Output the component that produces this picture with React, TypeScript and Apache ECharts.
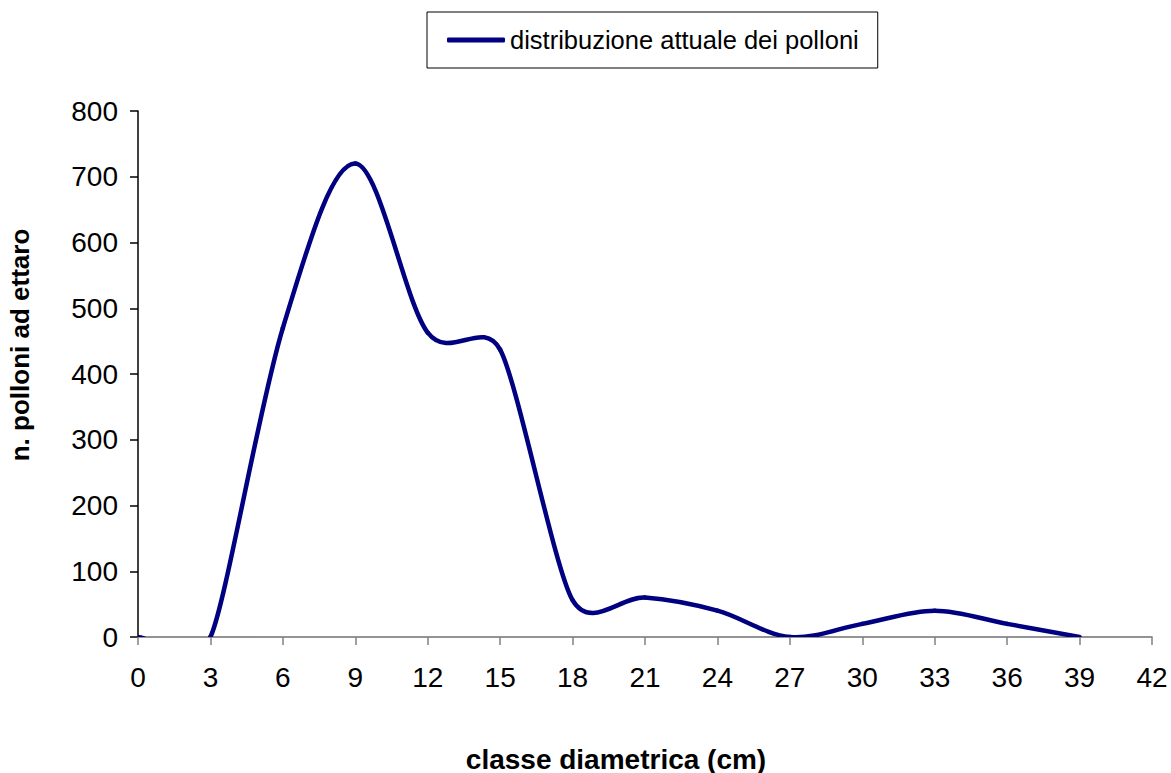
import React, { useEffect, useRef } from "react";
import * as echarts from "echarts";

const xValues = [0, 3, 6, 9, 12, 15, 18, 21, 24, 27, 30, 33, 36, 39];
const yValues = [0, 0, 470, 720, 463, 437, 56, 60, 40, 0, 20, 40, 20, 0];
const seriesName = "distribuzione attuale dei polloni";
const xAxisTitle = "classe diametrica (cm)";
const yAxisTitle = "n. polloni ad ettaro";

type P = number[];
const dist = (a: P, b: P) => Math.hypot(a[0] - b[0], a[1] - b[1]);

// Excel-like smoothing: Catmull-Rom tangent (1/6) capped at half of the shorter neighbour segment
function controlPoints(pts: P[], i: number): [P, P] {
  const p1 = pts[i];
  const p0 = i > 0 ? pts[i - 1] : p1;
  const p2 = i < pts.length - 1 ? pts[i + 1] : p1;
  const d02 = dist(p0, p2);
  if (d02 === 0) return [p1, p1];
  const d01 = dist(p0, p1);
  const d12 = dist(p1, p2);
  let lim = Infinity;
  if (d01 > 0) lim = Math.min(lim, d01 / 2);
  if (d12 > 0) lim = Math.min(lim, d12 / 2);
  const f = Math.min(1 / 6, lim / d02);
  const vx = (p2[0] - p0[0]) * f;
  const vy = (p2[1] - p0[1]) * f;
  return [
    [p1[0] - vx, p1[1] - vy],
    [p1[0] + vx, p1[1] + vy],
  ];
}

export default function App() {
  const ref = useRef<HTMLDivElement>(null);
  useEffect(() => {
    if (!ref.current) return;
    document.body.style.margin = "0";
    const chart = echarts.init(ref.current, null, { renderer: "svg" });
    const font = "'Liberation Sans', Arial, Helvetica, sans-serif";
    const lineColor = "#000080";
    chart.setOption({
      animation: false,
      backgroundColor: "#ffffff",
      textStyle: { fontFamily: font },
      grid: { left: 138, right: 19, top: 111, bottom: 136, containLabel: false },
      legend: {
        show: true,
        left: 427,
        top: 12,
        padding: [15, 19, 15, 20],
        borderColor: "#000000",
        borderWidth: 1,
        itemWidth: 58,
        itemHeight: 5,
        data: [{ name: seriesName, icon: "roundRect", itemStyle: { color: lineColor } }],
        textStyle: { fontSize: 25.5, color: "#000", fontFamily: font },
      },
      xAxis: {
        type: "value",
        min: 0,
        max: 42,
        interval: 3,
        splitLine: { show: false },
        axisLine: { show: true, onZero: false, lineStyle: { color: "#707070", width: 1.5 } },
        axisTick: { show: true, length: 8, lineStyle: { color: "#808080", width: 1.5 } },
        axisLabel: { fontSize: 28, color: "#000", margin: 26, fontFamily: font },
      },
      yAxis: {
        type: "value",
        min: 0,
        max: 800,
        interval: 100,
        splitLine: { show: false },
        axisLine: { show: true, lineStyle: { color: "#000", width: 1.5 } },
        axisTick: { show: true, length: 8, lineStyle: { color: "#000", width: 1.5 } },
        axisLabel: { fontSize: 28, color: "#000", margin: 20, fontFamily: font },
      },
      graphic: [
        {
          type: "text",
          x: 616,
          y: 759,
          style: {
            text: xAxisTitle,
            font: `bold 28px ${font}`,
            fill: "#000",
            align: "center",
            verticalAlign: "middle",
          },
        },
        {
          type: "text",
          x: 20,
          y: 345,
          rotation: Math.PI / 2,
          style: {
            text: yAxisTitle,
            font: `bold 26px ${font}`,
            fill: "#000",
            align: "center",
            verticalAlign: "middle",
          },
        },
      ],
      series: [
        {
          name: seriesName,
          type: "custom",
          clip: true,
          itemStyle: { color: lineColor },
          encode: { x: 0, y: 1 },
          data: xValues.map((x, i) => [x, yValues[i]]),
          renderItem: (params: any, api: any) => {
            const i = params.dataIndex;
            if (i >= xValues.length - 1) return null;
            const pts: P[] = xValues.map((x, k) => api.coord([x, yValues[k]]));
            const a = pts[i];
            const b = pts[i + 1];
            const ca = controlPoints(pts, i)[1];
            const cb = controlPoints(pts, i + 1)[0];
            return {
              type: "bezierCurve",
              shape: {
                x1: a[0],
                y1: a[1],
                x2: b[0],
                y2: b[1],
                cpx1: ca[0],
                cpy1: ca[1],
                cpx2: cb[0],
                cpy2: cb[1],
              },
              style: {
                stroke: lineColor,
                lineWidth: 4.5,
                fill: "none",
                lineCap: "round",
              },
            };
          },
        },
      ],
    });
    return () => chart.dispose();
  }, []);
  return <div ref={ref} style={{ width: 1171, height: 773 }} />;
}
